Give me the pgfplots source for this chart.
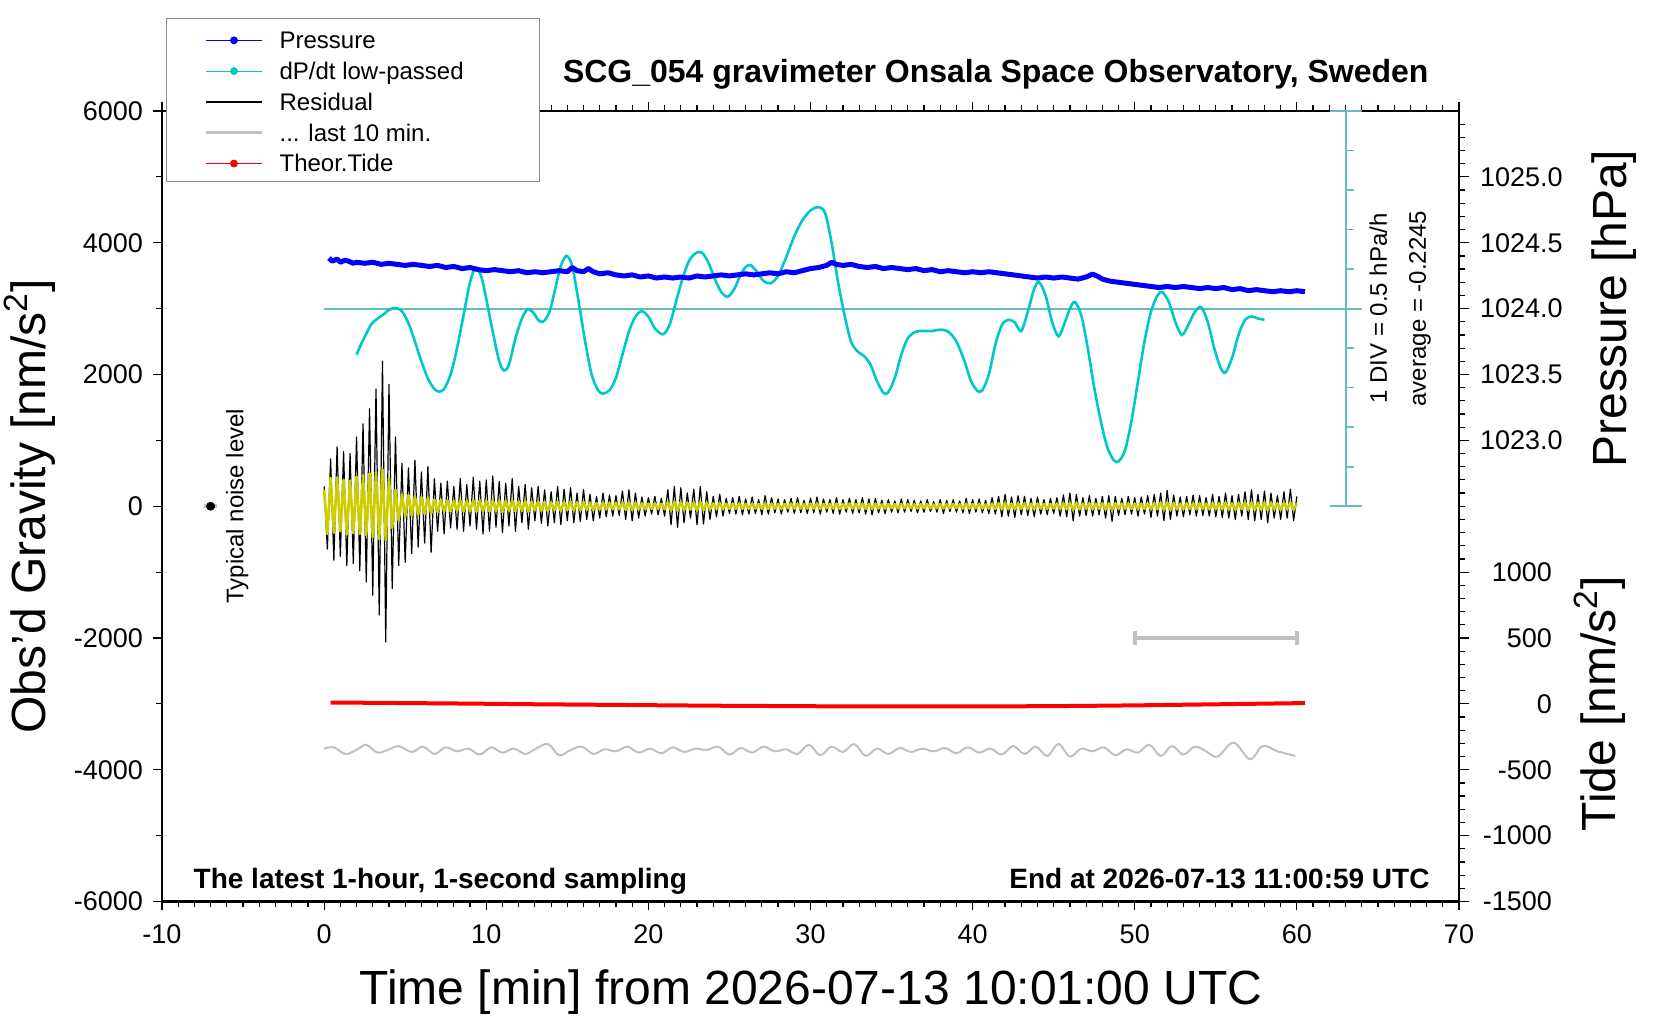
\documentclass[border=0pt]{standalone}
\usepackage{pgfplots}
\pgfplotsset{compat=1.18}
\usepackage{pgfplotstable}
\usepackage{fontspec}
\setmainfont{Liberation Sans}
\definecolor{pcyan}{RGB}{0,200,200}
\definecolor{acyan}{RGB}{100,190,190}
\definecolor{pyel}{RGB}{205,205,0}
\definecolor{lgray}{RGB}{192,192,192}
\definecolor{pblue}{RGB}{0,0,255}
\definecolor{pred}{RGB}{255,0,0}
\definecolor{lbox}{RGB}{140,140,140}

\pgfplotstableread{
x b y
0.0 300 250
0.2 -650 -420
0.4 720 430
0.6 -820 -400
0.8 900 440
1.0 -760 -380
1.2 830 400
1.4 -900 -430
1.6 800 390
1.8 -870 -410
2.0 1050 450
2.2 -980 -420
2.4 1250 470
2.6 -1150 -440
2.8 1480 500
3.0 -1350 -470
3.2 1780 520
3.4 -1650 -500
3.6 2200 560
3.8 -2060 -520
4.0 1850 430
4.2 -1250 -330
4.4 1050 250
4.6 -900 -220
4.8 650 180
5.0 -850 -160
5.2 580 170
5.4 -720 -140
5.6 700 150
5.8 -620 -130
6.0 520 140
6.2 -560 -120
6.4 600 130
6.6 -700 -110
6.8 420 100
7.0 -380 -90
7.2 350 100
7.4 -420 -80
7.6 380 90
7.8 -330 -80
8.0 300 85
8.2 -350 -75
8.4 420 90
8.6 -380 -80
8.8 330 80
9.0 -300 -75
9.2 440 95
9.4 -350 -85
9.6 380 90
9.8 -420 -80
10.0 400 85
10.2 -380 -80
10.4 460 95
10.6 -320 -75
10.8 380 85
11.0 -400 -90
11.2 350 80
11.4 -300 -70
11.6 420 90
11.8 -380 -80
12.0 300 75
12.2 -250 -70
12.4 330 80
12.6 -350 -85
12.8 280 70
13.0 -220 -65
13.2 300 75
13.4 -260 -70
13.6 250 65
13.8 -300 -75
14.0 220 60
14.2 -250 -65
14.4 300 70
14.6 -280 -70
14.8 260 65
15.0 -220 -60
15.2 280 70
15.4 -250 -65
15.6 200 60
15.8 -230 -60
16.0 250 65
16.2 -200 -55
16.4 180 55
16.6 -220 -60
16.8 150 50
17.0 -180 -50
17.2 200 55
17.4 -160 -50
17.6 170 50
17.8 -150 -45
18.0 160 50
18.2 -140 -45
18.4 230 60
18.6 -200 -55
18.8 250 65
19.0 -220 -60
19.2 200 55
19.4 -180 -50
19.6 140 45
19.8 -150 -45
20.0 130 40
20.2 -120 -40
20.4 150 45
20.6 -130 -40
20.8 120 40
21.0 -150 -45
21.2 250 60
21.4 -280 -65
21.6 300 70
21.8 -320 -70
22.0 280 65
22.2 -250 -60
22.4 200 55
22.6 -180 -50
22.8 260 60
23.0 -280 -65
23.2 300 65
23.4 -270 -60
23.6 220 55
23.8 -200 -50
24.0 150 45
24.2 -160 -45
24.4 180 50
24.6 -150 -45
24.8 120 40
25.0 -110 -40
25.2 130 40
25.4 -120 -40
25.6 150 45
25.8 -130 -40
26.0 110 35
26.2 -120 -40
26.4 140 40
26.6 -110 -35
26.8 100 35
27.0 -130 -40
27.2 160 45
27.4 -120 -40
27.6 130 40
27.8 -100 -35
28.0 110 35
28.2 -120 -40
28.4 100 35
28.6 -90 -30
28.8 120 40
29.0 -110 -35
29.2 130 40
29.4 -100 -35
29.6 90 30
29.8 -110 -35
30.0 120 40
30.2 -100 -35
30.4 140 40
30.6 -120 -40
30.8 110 35
31.0 -90 -30
31.2 100 35
31.4 -110 -35
31.6 130 40
31.8 -120 -40
32.0 100 35
32.2 -90 -30
32.4 120 40
32.6 -110 -35
32.8 100 35
33.0 -100 -35
33.2 130 40
33.4 -120 -40
33.6 110 35
33.8 -130 -40
34.0 120 40
34.2 -100 -35
34.4 90 30
34.6 -110 -35
34.8 100 35
35.0 -90 -30
35.2 80 30
35.4 -100 -35
35.6 110 35
35.8 -90 -30
36.0 100 35
36.2 -80 -30
36.4 90 30
36.6 -100 -35
36.8 80 30
37.0 -90 -30
37.2 100 35
37.4 -80 -30
37.6 70 25
37.8 -90 -30
38.0 100 35
38.2 -110 -35
38.4 90 30
38.6 -80 -30
38.8 100 35
39.0 -90 -30
39.2 80 30
39.4 -100 -35
39.6 120 40
39.8 -110 -35
40.0 100 35
40.2 -90 -30
40.4 110 35
40.6 -100 -35
40.8 90 30
41.0 -110 -35
41.2 130 40
41.4 -120 -40
41.6 150 45
41.8 -160 -45
42.0 180 50
42.2 -150 -45
42.4 140 40
42.6 -170 -45
42.8 160 45
43.0 -130 -40
43.2 150 45
43.4 -140 -40
43.6 120 40
43.8 -160 -45
44.0 140 40
44.2 -120 -35
44.4 100 35
44.6 -130 -40
44.8 120 35
45.0 -110 -35
45.2 130 40
45.4 -150 -40
45.6 170 45
45.8 -160 -45
46.0 200 50
46.2 -220 -55
46.4 180 50
46.6 -150 -45
46.8 130 40
47.0 -140 -40
47.2 160 45
47.4 -150 -45
47.6 120 40
47.8 -130 -40
48.0 150 45
48.2 -180 -50
48.4 160 45
48.6 -230 -55
48.8 150 45
49.0 -140 -40
49.2 120 40
49.4 -130 -40
49.6 150 45
49.8 -120 -40
50.0 130 40
50.2 -150 -45
50.4 140 40
50.6 -120 -40
50.8 160 45
51.0 -170 -45
51.2 180 50
51.4 -150 -45
51.6 200 55
51.8 -220 -55
52.0 240 60
52.2 -200 -55
52.4 170 50
52.6 -150 -45
52.8 140 40
53.0 -160 -45
53.2 150 45
53.4 -130 -40
53.6 170 45
53.8 -150 -45
54.0 160 45
54.2 -140 -40
54.4 130 40
54.6 -150 -45
54.8 180 50
55.0 -160 -45
55.2 150 45
55.4 -170 -45
55.6 200 55
55.8 -180 -50
56.0 160 45
56.2 -200 -55
56.4 180 50
56.6 -150 -45
56.8 220 55
57.0 -200 -55
57.2 250 60
57.4 -220 -55
57.6 180 50
57.8 -200 -55
58.0 230 60
58.2 -250 -60
58.4 200 55
58.6 -180 -50
58.8 160 45
59.0 -200 -55
59.2 220 55
59.4 -180 -50
59.6 260 60
59.8 -220 -55
60.0 150 40
}\resid

\pgfplotstableread{
x p
0.3 1024.384
0.5 1024.360
0.8 1024.376
1.0 1024.352
1.3 1024.368
1.5 1024.360
1.8 1024.344
2.0 1024.352
2.5 1024.344
3.0 1024.352
3.5 1024.336
4.0 1024.344
4.5 1024.336
5.0 1024.328
5.5 1024.336
6.0 1024.328
6.5 1024.320
7.0 1024.328
7.5 1024.312
8.0 1024.320
8.5 1024.304
9.0 1024.312
9.5 1024.296
10.0 1024.288
10.5 1024.296
11.0 1024.288
11.5 1024.280
12.0 1024.288
12.5 1024.272
13.0 1024.280
13.5 1024.272
14.0 1024.280
14.5 1024.288
15.0 1024.280
15.3 1024.312
15.6 1024.288
16.0 1024.280
16.3 1024.304
16.6 1024.280
17.0 1024.264
17.5 1024.272
18.0 1024.256
18.5 1024.248
19.0 1024.256
19.5 1024.240
20.0 1024.248
20.5 1024.232
21.0 1024.240
21.5 1024.232
22.0 1024.240
22.5 1024.232
23.0 1024.248
23.5 1024.240
24.0 1024.248
24.5 1024.256
25.0 1024.248
25.5 1024.256
26.0 1024.264
26.5 1024.256
27.0 1024.264
27.5 1024.272
28.0 1024.264
28.5 1024.280
29.0 1024.272
29.5 1024.288
30.0 1024.304
30.5 1024.312
31.0 1024.328
31.3 1024.352
31.6 1024.336
32.0 1024.328
32.5 1024.336
33.0 1024.320
33.5 1024.312
34.0 1024.320
34.5 1024.304
35.0 1024.312
35.5 1024.304
36.0 1024.296
36.5 1024.304
37.0 1024.288
37.5 1024.296
38.0 1024.280
38.5 1024.288
39.0 1024.280
39.5 1024.272
40.0 1024.280
40.5 1024.272
41.0 1024.280
41.5 1024.272
42.0 1024.264
42.5 1024.256
43.0 1024.248
43.5 1024.240
44.0 1024.232
44.5 1024.240
45.0 1024.232
45.5 1024.240
46.0 1024.232
46.5 1024.224
47.0 1024.240
47.4 1024.262
47.8 1024.240
48.0 1024.224
48.5 1024.208
49.0 1024.200
49.5 1024.192
50.0 1024.184
50.5 1024.176
51.0 1024.168
51.5 1024.160
52.0 1024.168
52.5 1024.160
53.0 1024.168
53.5 1024.160
54.0 1024.152
54.5 1024.160
55.0 1024.152
55.5 1024.160
56.0 1024.144
56.5 1024.152
57.0 1024.136
57.5 1024.144
58.0 1024.136
58.5 1024.128
59.0 1024.136
59.5 1024.128
60.0 1024.136
60.5 1024.128
}\press

\pgfplotstableread{
x g
2.0 2300
2.3 2470
2.6 2620
2.9 2760
3.2 2830
3.6 2900
4.0 2980
4.4 3010
4.8 2960
5.2 2780
5.6 2500
6.0 2200
6.4 1940
6.8 1780
7.1 1740
7.4 1780
7.8 2000
8.2 2400
8.6 2900
9.0 3400
9.35 3620
9.7 3480
10.0 3150
10.4 2650
10.8 2200
11.1 2060
11.4 2150
11.8 2550
12.2 2850
12.55 2990
12.9 2940
13.2 2830
13.5 2800
13.9 2950
14.3 3350
14.6 3650
14.95 3800
15.3 3650
15.7 3100
16.1 2500
16.5 2000
16.9 1760
17.2 1710
17.6 1760
18.0 1950
18.4 2300
18.8 2650
19.2 2880
19.6 2960
20.0 2880
20.4 2700
20.9 2610
21.3 2750
21.7 3100
22.1 3450
22.5 3720
22.9 3840
23.3 3850
23.7 3700
24.1 3450
24.5 3250
24.9 3180
25.3 3300
25.7 3520
26.0 3630
26.3 3660
26.7 3560
27.1 3420
27.55 3385
28.0 3500
28.5 3780
29.0 4100
29.5 4340
30.0 4490
30.5 4540
30.9 4450
31.3 4000
31.7 3400
32.1 2900
32.5 2500
32.9 2350
33.3 2280
33.7 2150
34.1 1900
34.5 1720
34.8 1730
35.2 1950
35.6 2300
36.0 2550
36.5 2650
37.0 2660
37.5 2660
38.0 2680
38.5 2650
39.0 2500
39.5 2200
39.9 1900
40.3 1750
40.6 1760
41.0 2000
41.4 2450
41.8 2750
42.2 2830
42.6 2790
43.0 2660
43.4 2950
43.8 3300
44.1 3400
44.5 3200
44.9 2800
45.3 2580
45.7 2800
46.0 3000
46.3 3100
46.7 2900
47.1 2400
47.5 1800
47.9 1300
48.3 900
48.7 700
49.0 680
49.4 850
49.8 1300
50.2 1900
50.6 2500
51.0 2950
51.4 3200
51.7 3250
52.1 3100
52.5 2800
52.9 2600
53.3 2750
53.7 2950
54.1 3020
54.5 2800
54.9 2400
55.3 2100
55.6 2030
56.0 2250
56.4 2600
56.8 2830
57.2 2880
57.6 2850
58.0 2830
}\dpdt

\pgfplotstableread{
x g
0.0 -3680
0.6 -3660
1.3 -3760
2.0 -3700
2.6 -3620
3.3 -3740
4.0 -3690
4.6 -3640
5.4 -3730
6.1 -3650
6.8 -3760
7.5 -3660
8.2 -3720
8.9 -3680
9.6 -3770
10.3 -3660
11.0 -3740
11.7 -3680
12.4 -3760
13.0 -3690
13.8 -3610
14.5 -3780
15.2 -3700
15.9 -3650
16.6 -3760
17.3 -3690
18.0 -3720
18.7 -3650
19.4 -3740
20.1 -3680
20.8 -3750
21.5 -3660
22.2 -3730
22.9 -3680
23.6 -3700
24.3 -3650
25.0 -3770
25.7 -3670
26.4 -3740
27.1 -3650
27.8 -3720
28.5 -3690
29.2 -3760
29.9 -3620
30.6 -3780
31.3 -3650
32.0 -3730
32.7 -3610
33.4 -3790
34.1 -3680
34.8 -3760
35.5 -3670
36.2 -3730
36.9 -3680
37.6 -3720
38.3 -3670
39.0 -3750
39.7 -3660
40.4 -3740
41.1 -3680
41.8 -3770
42.5 -3640
43.2 -3760
43.9 -3650
44.6 -3790
45.3 -3610
46.0 -3800
46.7 -3680
47.4 -3720
48.1 -3660
48.8 -3780
49.5 -3690
50.2 -3740
50.9 -3620
51.6 -3790
52.3 -3640
53.0 -3770
53.7 -3650
54.4 -3720
55.1 -3800
56.1 -3590
57.1 -3840
57.9 -3640
58.8 -3720
59.9 -3790
}\lastten

\pgfplotstableread{
x t
0.4 10
3 8
6 5
9 2
12 -2
15 -5
18 -8
21 -11
24 -14
27 -16
30 -18
33 -19
36 -20
39 -20
42 -19
45 -17
48 -14
51 -10
54 -5
57 0
60.5 6
}\tide

\pgfplotsset{common/.style={
  scale only axis, width=648.5pt, height=395.25pt,
  at={(81pt,59.25pt)}, anchor=south west,
  xmin=-10, xmax=70, clip=false,
  tick align=outside, major tick length=4.5pt, minor tick length=3pt,
  tick style={black, line width=0.6pt},
  tick label style={font=\fontsize{13.5}{16}\selectfont},
}}

\begin{document}
\begin{tikzpicture}
\useasboundingbox (0,0) rectangle (830pt,510pt);
\begin{axis}[common,
  ymin=-6000, ymax=6000,
  axis line style={line width=1.2pt},
  xtick={-10,0,10,20,30,40,50,60,70}, xticklabels={-10,0,10,20,30,40,50,60,70},
  minor xtick={-9,-8,-7,-6,-5,-4,-3,-2,-1,1,2,3,4,5,6,7,8,9,11,12,13,14,15,16,17,18,19,21,22,23,24,25,26,27,28,29,31,32,33,34,35,36,37,38,39,41,42,43,44,45,46,47,48,49,51,52,53,54,55,56,57,58,59,61,62,63,64,65,66,67,68,69},
  ytick={-6000,-4000,-2000,0,2000,4000,6000}, yticklabels={-6000,-4000,-2000,0,2000,4000,6000},
  minor ytick={-5000,-3000,-1000,1000,3000,5000},
  ytick pos=left, xtick pos=both,
  xticklabel style={yshift=-3.5pt}, yticklabel style={xshift=-1.5pt},
  legend style={at={(axis cs:-7.41,7250)}, anchor=north west, draw=none, fill=none,
    inner sep=0pt, row sep=4.1pt, column sep=8pt,
    nodes={inner sep=0pt}, font=\fontsize{12}{14}\selectfont\strut},
  legend cell align=left,
  legend image code/.code={\path[draw=none,fill=none] (0pt,-3.5pt) rectangle (28pt,3.5pt);
    \draw[mark repeat=2,mark phase=2,#1] plot coordinates {(0pt,0pt) (14pt,0pt) (28pt,0pt)};},
]
\addlegendimage{pblue, line width=0.5pt, mark=*, mark size=1.7pt}
\addlegendentry{Pressure}
\addlegendimage{pcyan, line width=0.5pt, mark=*, mark size=1.7pt}
\addlegendentry{dP/dt low-passed}
\addlegendimage{black, line width=1.3pt}
\addlegendentry{Residual}
\addlegendimage{lgray, line width=1.6pt}
\addlegendentry{.{}.{}. last 10 min.}
\addlegendimage{pred, line width=0.5pt, mark=*, mark size=1.7pt}
\addlegendentry{Theor.Tide}

% last 10 min (grey)
\addplot[lgray, line width=1pt, smooth, tension=0.6, forget plot] table[x=x,y=g] {\lastten};
% typical noise level
\addplot[lgray, line width=2pt, forget plot] coordinates {(-7.4,0) (-6.6,0)};
\addplot[only marks, mark=*, black, mark size=2pt, forget plot] coordinates {(-7,0)};
% grey bar
\addplot[lgray, line width=2pt, mark=|, mark size=3.5pt, mark options={line width=2pt}, forget plot] coordinates {(50,-2000) (60,-2000)};
% cyan dP/dt axis
\addplot[acyan, line width=1pt, forget plot] coordinates {(0,3000) (64,3000)};
\addplot[acyan, line width=1pt, forget plot] coordinates {(63,0) (63,6000)};
\addplot[acyan, line width=1pt, forget plot] coordinates {(62.05,0) (64,0)};
\addplot[acyan, line width=1pt, forget plot] coordinates {(62.05,6000) (64,6000)};
\addplot[acyan, line width=0.8pt, forget plot] coordinates {(63,600) (63.5,600)};
\addplot[acyan, line width=0.8pt, forget plot] coordinates {(63,1200) (63.5,1200)};
\addplot[acyan, line width=0.8pt, forget plot] coordinates {(63,1800) (63.5,1800)};
\addplot[acyan, line width=0.8pt, forget plot] coordinates {(63,2400) (63.5,2400)};
\addplot[acyan, line width=0.8pt, forget plot] coordinates {(63,3600) (63.5,3600)};
\addplot[acyan, line width=0.8pt, forget plot] coordinates {(63,4200) (63.5,4200)};
\addplot[acyan, line width=0.8pt, forget plot] coordinates {(63,4800) (63.5,4800)};
\addplot[acyan, line width=0.8pt, forget plot] coordinates {(63,5400) (63.5,5400)};
% dP/dt curve
\addplot[pcyan, line width=1.3pt, smooth, tension=0.5, forget plot] table[x=x,y=g] {\dpdt};
% residuals
\addplot[black, line width=0.6pt, line join=round, forget plot] table[x=x,y=b] {\resid};
\addplot[pyel, line width=1.3pt, line join=round, forget plot] table[x=x,y=y] {\resid};

% legend frame
\draw[lbox, line width=0.6pt, fill=white] (axis cs:-9.71,4926) rectangle (axis cs:13.27,7407);

\node[font=\fontsize{16}{19}\selectfont\bfseries] at (axis cs:41.43,6560) {SCG\_054 gravimeter Onsala Space Observatory, Sweden};
\node[font=\fontsize{14}{17}\selectfont\bfseries, anchor=base west, inner sep=0pt] at (axis cs:-8.07,-5800) {The latest 1-hour, 1-second sampling};
\node[font=\fontsize{14}{17}\selectfont\bfseries, anchor=base east, inner sep=0pt] at (axis cs:68.21,-5800) {End at 2026-07-13 11:00:59 UTC};
\node[font=\fontsize{24}{28}\selectfont] at (axis cs:30.03,-7377) {Time [min] from 2026-07-13 10:01:00 UTC};
\node[font=\fontsize{24}{28}\selectfont, rotate=90] at (axis cs:-18.17,0) {Obs’d Gravity [nm/s\textsuperscript{2}]};
\node[font=\fontsize{24}{28}\selectfont, rotate=90] at (axis cs:79.54,3000) {Pressure [hPa]};
\node[font=\fontsize{24}{28}\selectfont, rotate=90] at (axis cs:78.67,-3000) {Tide [nm/s\textsuperscript{2}]};
\node[font=\fontsize{12}{14}\selectfont, rotate=90] at (axis cs:-5.36,0) {Typical noise level};
\node[font=\fontsize{12}{14}\selectfont, rotate=90] at (axis cs:65.02,3000) {1 DIV = 0.5 hPa/h};
\node[font=\fontsize{12}{14}\selectfont, rotate=90] at (axis cs:67.6,3000) {average = -0.2245};
\end{axis}

\begin{axis}[common,
  ymin=1019.5, ymax=1025.5,
  axis x line=none, axis y line*=right, y axis line style={draw=none},
  ytick={1023,1023.5,1024,1024.5,1025},
  yticklabels={1023.0,1023.5,1024.0,1024.5,1025.0},
  minor ytick={1019.6,1019.7,1019.8,1019.9,1020.1,1020.2,1020.3,1020.4,1020.6,1020.7,1020.8,1020.9,1021.1,1021.2,1021.3,1021.4,1021.6,1021.7,1021.8,1021.9,1022.1,1022.2,1022.3,1022.4,1022.5,1022.6,1022.7,1022.8,1022.9,1023.1,1023.2,1023.3,1023.4,1023.6,1023.7,1023.8,1023.9,1024.1,1024.2,1024.3,1024.4,1024.6,1024.7,1024.8,1024.9,1025.1,1025.2,1025.3,1025.4},
  major tick length=5pt,
  yticklabel style={xshift=2pt},
]
\addplot[pblue, line width=2.5pt, line join=round] table[x=x,y=p] {\press};
\end{axis}

\begin{axis}[common,
  ymin=-1500, ymax=4500,
  axis x line=none, axis y line*=right, y axis line style={draw=none},
  ytick={-1500,-1000,-500,0,500,1000},
  yticklabels={-1500,-1000,-500,0,500,1000},
  major tick length=5pt,
  yticklabel style={anchor=east, xshift=45pt},
]
\addplot[pred, line width=2pt] table[x=x,y=t] {\tide};
\end{axis}
\end{tikzpicture}
\end{document}
